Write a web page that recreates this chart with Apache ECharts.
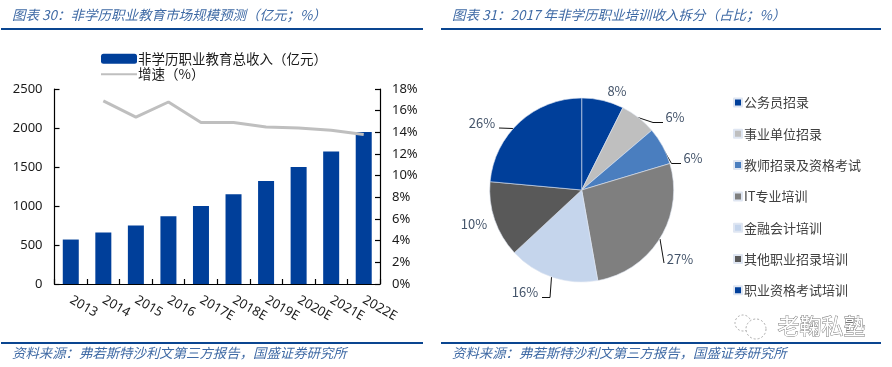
<!DOCTYPE html>
<html><head><meta charset="utf-8">
<style>html,body{margin:0;padding:0;background:#fff}#c{width:892px;height:367px}</style>
<script src="https://cdn.jsdelivr.net/npm/echarts@6/dist/echarts.min.js"></script>
</head><body><div id="c"></div>
<script>
const years = ['2013','2014','2015','2016','2017E','2018E','2019E','2020E','2021E','2022E'];
const revenue = [570,660,750,870,1000,1150,1320,1500,1700,1950];
const growth = [null,16.9,15.4,16.8,14.9,14.9,14.5,14.4,14.2,13.8];
const barName = '非学历职业教育总收入（亿元）';
const lineName = '增速（%）';
const pieNames = ['公务员招录','事业单位招录','教师招录及资格考试','IT专业培训','金融会计培训','其他职业招录培训','职业资格考试培训'];
// slice sizes as drawn in the picture; printed labels below
const pieShares = [7.4,6.4,6.6,26.9,15.9,13.4,23.6];
const pieLabels = ['8%','6%','6%','27%','16%','10%','26%'];
const pieColors = ['#003f9a','#bfbfbf','#4a7ebf','#7f7f7f','#c5d5ec','#595959','#003f9a'];
const labelPos = [[617,91],[675,117],[693,158],[680,259],[525,292],[474,224],[482,123]];
const linePts = [null,[[638,117.5],[653,122.5],[663,122.5]],[[661.5,146],[671.5,163.5],[681,163.5]],[[660,239],[664,263]],[[551.5,277],[550,297.5],[542,297.5]],null,[[513,128.5],[499,128]]];

const cjk = '"Noto Sans CJK SC","Noto Sans",sans-serif';
const blue = '#0a4590';
const chart = echarts.init(document.getElementById('c'), null, {renderer:'canvas'});
const axisCommon = {
  axisLine:{show:true,lineStyle:{color:'#000',width:1.2}},
  axisTick:{show:true,inside:true,length:5,lineStyle:{color:'#000',width:1.2}},
  splitLine:{show:false},
  axisLabel:{color:'#1a1a1a',fontSize:13,fontFamily:'"Noto Sans",sans-serif',margin:12}
};
const titleStyle = {color:'#3f6aa5',fontSize:13.5,fontStyle:'italic',fontFamily:cjk,fontWeight:'normal'};
const footStyle = {color:'#3f6aa5',fontSize:13.4,fontStyle:'italic',fontFamily:cjk,fontWeight:'normal'};
const foot = '资料来源：弗若斯特沙利文第三方报告，国盛证券研究所';
chart.setOption({
  animation:false,
  textStyle:{fontFamily:cjk},
  title:[
    {text:'图表 30：非学历职业教育市场规模预测（亿元；%）',left:7,top:3,textStyle:titleStyle},
    {text:'图表 31：2017 年非学历职业培训收入拆分（占比；%）',left:447,top:3,textStyle:titleStyle},
    {text:foot,left:7,top:341,textStyle:footStyle},
    {text:foot,left:447,top:341,textStyle:footStyle}
  ],
  legend:[
    {orient:'vertical',left:100,top:52,padding:0,itemWidth:36,itemHeight:10,itemGap:2,selectedMode:false,
     data:[{name:barName,icon:'roundRect'},{name:lineName,itemStyle:{opacity:0}}],
     textStyle:{fontSize:13.5,color:'#1a1a1a',padding:[0,0,0,-4]}},
    {orient:'vertical',left:733,top:96,padding:0,itemWidth:8,itemHeight:8,itemGap:18.3,icon:'rect',selectedMode:false,
     data:pieNames,textStyle:{fontSize:13,color:'#404040',padding:[0,0,0,-3]}}
  ],
  grid:{left:54.5,right:512,top:89,height:195,containLabel:false},
  xAxis:{type:'category',data:years,...axisCommon,
    axisTick:{...axisCommon.axisTick,alignWithLabel:false},
    axisLabel:{...axisCommon.axisLabel,rotate:-30,margin:15,interval:0}},
  yAxis:[
    {type:'value',min:0,max:2500,interval:500,...axisCommon,
     axisLabel:{...axisCommon.axisLabel,formatter:v=>String(v)}},
    {type:'value',min:0,max:18,interval:2,position:'right',...axisCommon,
     axisLabel:{...axisCommon.axisLabel,formatter:'{value}%'}}
  ],
  series:[
    {name:barName,type:'bar',data:revenue,barWidth:16,itemStyle:{color:'#003f9a'}},
    {name:lineName,type:'line',yAxisIndex:1,data:growth,symbol:'none',connectNulls:false,z:5,
     lineStyle:{color:'#bfbfbf',width:3},itemStyle:{color:'#bfbfbf'}},
    {type:'pie',center:[581.7,190],radius:[0,92],startAngle:90,clockwise:true,
     data:pieNames.map((n,i)=>({name:n,value:pieShares[i],itemStyle:{color:pieColors[i]},
       label:{formatter:pieLabels[i]},labelLine:{show:!!linePts[i]}})),
     itemStyle:{borderColor:'#dfe6f2',borderWidth:0.6},
     label:{show:true,position:'outside',fontSize:13,color:'#44546a'},
     labelLine:{show:true,lineStyle:{color:'#111',width:1}},
     labelLayout:function(p){const i=p.dataIndex;
       const o={x:labelPos[i][0],y:labelPos[i][1],align:'center',verticalAlign:'middle'};
       if(linePts[i])o.labelLinePoints=linePts[i];return o;}}
  ],
  graphic:[
    {type:'rect',shape:{x:1,y:28,width:422,height:2},style:{fill:blue},silent:true},
    {type:'rect',shape:{x:441,y:28,width:440,height:2},style:{fill:blue},silent:true},
    {type:'rect',shape:{x:1,y:342,width:422,height:2},style:{fill:blue},silent:true},
    {type:'rect',shape:{x:441,y:342,width:440,height:2},style:{fill:blue},silent:true},
    {type:'circle',shape:{cx:743,cy:323,r:8},style:{fill:'#fff',stroke:'#aaa',lineWidth:1,lineDash:[2,2]},silent:true},
    {type:'circle',shape:{cx:756,cy:329,r:10},style:{fill:'#fff',stroke:'#aaa',lineWidth:1,lineDash:[2,2]},silent:true},
    {type:'text',left:777,top:314,style:{text:'老鞠私塾',font:'22px '+cjk,fill:'#fff',stroke:'#777',lineWidth:0.9},silent:true}
  ]
});
</script></body></html>
